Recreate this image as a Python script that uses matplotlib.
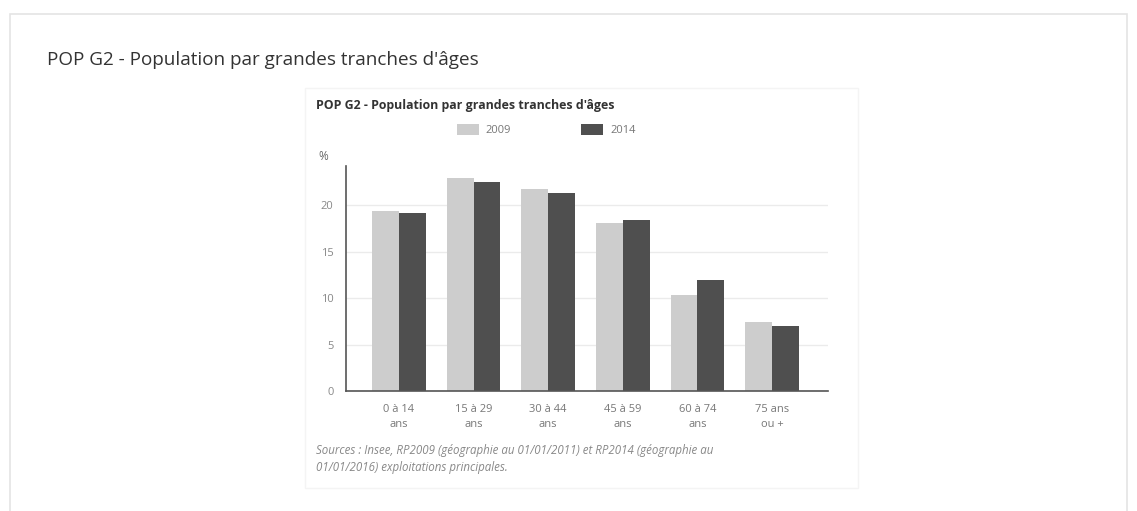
import matplotlib

matplotlib.use("Agg")
import matplotlib.pyplot as plt
import numpy as np
from matplotlib.patches import Rectangle

categories = ["0 à 14\nans", "15 à 29\nans", "30 à 44\nans", "45 à 59\nans", "60 à 74\nans", "75 ans\nou +"]
pop_2009 = [19.4, 22.9, 21.7, 18.1, 10.3, 7.4]
pop_2014 = [19.1, 22.5, 21.3, 18.4, 11.9, 7.0]
series_labels = ["2009", "2014"]
yticks = [0, 5, 10, 15, 20]

title = "POP G2 - Population par grandes tranches d'âges"
source = ("Sources : Insee, RP2009 (géographie au 01/01/2011) et RP2014 (géographie au\n"
          "01/01/2016) exploitations principales.")

light = "#cdcdcd"
dark = "#4f4f4f"

plt.rcParams["font.family"] = ["Open Sans", "DejaVu Sans"]

fig = plt.figure(figsize=(11.37, 5.11), dpi=100)
fig.patch.set_facecolor("white")

# page frame and chart panel
fig.add_artist(Rectangle((10 / 1137, -0.01), 1117 / 1137, 1 - 14 / 511 + 0.01,
                         transform=fig.transFigure, fill=False, ec="#e4e4e4", lw=1.2))
fig.add_artist(Rectangle((305 / 1137, 1 - 488 / 511), 553 / 1137, 400 / 511,
                         transform=fig.transFigure, fill=False, ec="#f4f4f4", lw=1))

fig.text(47 / 1137, 1 - 60 / 511, title, fontsize=13.6, color="#333333", va="center")
fig.text(316 / 1137, 1 - 106 / 511, title, fontsize=8.9, color="#333333",
         va="center", fontweight="bold")

ax = fig.add_axes([346 / 1137, 1 - 391 / 511, 482 / 1137, 225 / 511])
x = np.arange(len(categories))
w = 0.36
b1 = ax.bar(x - w / 2, pop_2009, w, color=light, label=series_labels[0], zorder=2)
b2 = ax.bar(x + w / 2, pop_2014, w, color=dark, label=series_labels[1], zorder=2)

ax.set_xlim(-0.71, 5.75)
ax.set_ylim(0, 24.2)
ax.set_yticks(yticks)
ax.set_xticks(x)
ax.set_xticklabels(categories, fontsize=8, color="#777777", linespacing=1.5)
ax.tick_params(axis="y", length=0, labelsize=8, labelcolor="#888888", pad=9)
ax.tick_params(axis="x", length=0, pad=9)
ax.grid(axis="y", color="#ebebeb", lw=1, zorder=0)
for side in ["top", "right"]:
    ax.spines[side].set_visible(False)
ax.spines["left"].set_color("#555555")
ax.spines["bottom"].set_color("#555555")
ax.spines["left"].set_linewidth(1.2)
ax.spines["bottom"].set_linewidth(1.2)

fig.text(318 / 1137, 1 - 157 / 511, "%", fontsize=8.5, color="#666666", va="center")

fig.legend(handles=[b1, b2], labels=series_labels, loc="center left",
           bbox_to_anchor=(447 / 1137, 1 - 130 / 511), ncol=2, frameon=False,
           fontsize=8, labelcolor="#777777", handlelength=2.0, handleheight=1.1,
           columnspacing=6.3, handletextpad=0.6)

fig.text(316 / 1137, 1 - 459 / 511, source, fontsize=8.3, color="#888888",
         style="italic", va="center", linespacing=1.4)

fig.savefig("out.png", dpi=100)
